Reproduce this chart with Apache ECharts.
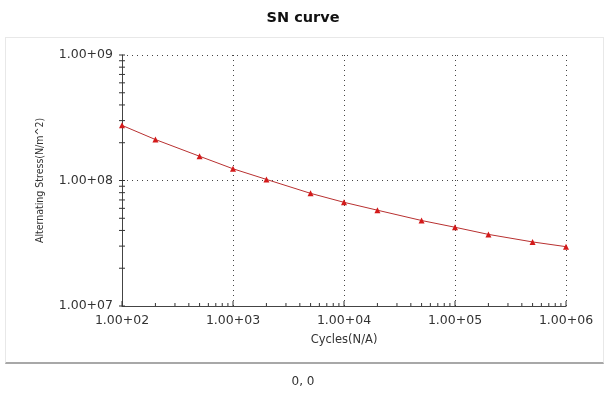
<!DOCTYPE html>
<html>
<head>
<meta charset="utf-8">
<script src="https://cdn.jsdelivr.net/npm/echarts@6/dist/echarts.min.js"></script>
<style>
  html, body { margin: 0; padding: 0; background: #fff; }
  #wrap { position: relative; width: 606px; height: 394px; }
  #panel {
    position: absolute; left: 5px; top: 37px; width: 597px; height: 324px;
    border: 1px solid #e8e8e8; border-bottom: 2px solid #a8a8a8; background: #fff;
  }
  #chart { position: absolute; left: 0; top: 0; width: 606px; height: 394px; }
</style>
</head>
<body>
<div id="wrap">
  <div id="panel"></div>
  <div id="chart"></div>
</div>
<script>
// S-N curve data (cycles vs alternating stress, N/m^2)
const cycles = [100, 200, 500, 1000, 2000, 5000, 1e4, 2e4, 5e4, 1e5, 2e5, 5e5, 1e6];
const stress = [2.75e8, 2.12e8, 1.56e8, 1.24e8, 1.02e8, 7.9e7, 6.7e7, 5.8e7, 4.8e7, 4.24e7, 3.72e7, 3.24e7, 2.97e7];

const xMin = 100, xMax = 1e6;
const yMin = 1e7, yMax = 1e9;

// minor tick positions (2..9 in every decade, plus the decades)
function logTicks(lo, hi) {
    const out = [];
    for (let d = lo; d < hi; d *= 10) {
        for (let m = 1; m <= 9; m++) out.push(d * m);
    }
    out.push(hi);
    return out;
}
const xTickVals = logTicks(xMin, xMax);
const yTickVals = logTicks(yMin, yMax);

function fmt(v) {
    const e = Math.round(Math.log10(v));
    return '1.00+' + String(e).padStart(2, '0');
}

const chart = echarts.init(document.getElementById('chart'), null, { renderer: 'canvas' });

const tickData = xTickVals.map(v => [v, yMin, 'x', Math.abs(Math.log10(v) % 1) < 1e-9])
    .concat(yTickVals.map(v => [xMin, v, 'y', Math.abs(Math.log10(v) % 1) < 1e-9]));

chart.setOption({
    animation: false,
    title: {
        text: 'SN curve',
        left: 'center',
        top: 6,
        textStyle: { fontFamily: 'DejaVu Sans', fontSize: 14.5, fontWeight: 'bold', color: '#111' }
    },
    graphic: [{
        type: 'text',
        left: 'center',
        top: 376,
        style: { text: '0, 0', font: '12px "DejaVu Sans"', fill: '#333' }
    }],
    grid: { left: 122, right: 40, top: 55, bottom: 88 },
    xAxis: {
        type: 'log',
        logBase: 10,
        min: xMin,
        max: xMax,
        name: 'Cycles(N/A)',
        nameLocation: 'middle',
        nameGap: 28,
        nameTextStyle: { fontFamily: 'DejaVu Sans', fontSize: 11.5, color: '#333' },
        axisLine: { lineStyle: { color: '#444', width: 1 } },
        axisTick: { show: false },
        axisLabel: {
            formatter: fmt, margin: 8,
            fontFamily: 'DejaVu Sans', fontSize: 12.5, color: '#333'
        },
        splitLine: { show: true, lineStyle: { color: '#444', type: [1, 4], width: 1 } }
    },
    yAxis: {
        type: 'log',
        logBase: 10,
        min: yMin,
        max: yMax,
        name: 'Alternating Stress(N/m^2)',
        nameLocation: 'middle',
        nameGap: 76,
        nameTextStyle: { fontFamily: 'DejaVu Sans Condensed', fontSize: 10.5, color: '#333' },
        axisLine: { lineStyle: { color: '#444', width: 1 } },
        axisTick: { show: false },
        axisLabel: {
            formatter: fmt, margin: 9,
            fontFamily: 'DejaVu Sans', fontSize: 12.5, color: '#333'
        },
        splitLine: { show: true, lineStyle: { color: '#444', type: [1, 4], width: 1 } }
    },
    series: [
        {
            type: 'custom',
            silent: true,
            clip: false,
            z: 5,
            data: tickData,
            renderItem: function (params, api) {
                const p = api.coord([api.value(0), api.value(1)]);
                const axis = tickData[params.dataIndex][2];
                const major = tickData[params.dataIndex][3];
                const len = major ? 5 : 3;
                let shape;
                if (axis === 'x') {
                    shape = { x1: p[0], y1: p[1], x2: p[0], y2: p[1] - len };
                } else {
                    shape = { x1: p[0] - 3, y1: p[1], x2: p[0] + 3, y2: p[1] };
                }
                return { type: 'line', shape: shape, style: { stroke: '#333', lineWidth: 1 } };
            }
        },
        {
            type: 'line',
            data: cycles.map((c, i) => [c, stress[i]]),
            symbol: 'triangle',
            symbolSize: 6,
            showAllSymbol: true,
            lineStyle: { color: '#b83030', width: 1 },
            itemStyle: { color: '#d41a1a' },
            z: 10
        }
    ]
});
</script>
</body>
</html>
